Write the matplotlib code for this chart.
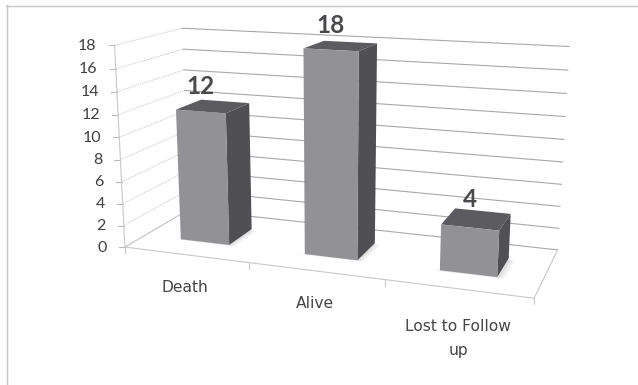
import numpy as np
import matplotlib
matplotlib.use("Agg")
import matplotlib.pyplot as plt
from matplotlib.patches import Polygon

categories = ["Death", "Alive", "Lost to Follow\nup"]
values = [12, 18, 4]
y_ticks = list(range(0, 19, 2))

Y_MAX = 18
BAR_WIDTH = 0.40
BAR_Z = (0.30, 0.70)

# Camera calibration: box coordinates (x, value, depth) and their screen positions.
box_points = np.array([
    (0, 0, 0), (0, 18, 0), (0, 0, 1), (0, 18, 1),
    (1, 0, 0), (1, 0, 1), (1, 18, 1),
    (1 / 3, 0, 0), (2 / 3, 0, 0),
], float)
screen_points = np.array([
    (126, 245), (114, 45), (188, 211), (183, 28),
    (534, 298), (558, 248), (569, 47),
    (249, 263), (385, 282),
], float)


def fit_camera(world, screen):
    rows, rhs = [], []
    for (x, y, z), (u, v) in zip(world, screen):
        rows.append([x, y, z, 1, 0, 0, 0, 0, -u * x, -u * y, -u * z])
        rows.append([0, 0, 0, 0, x, y, z, 1, -v * x, -v * y, -v * z])
        rhs += [u, v]
    p = np.linalg.lstsq(np.array(rows), np.array(rhs), rcond=None)[0]
    return np.append(p, 1).reshape(3, 4)


camera = fit_camera(box_points, screen_points)


def project(x, y, z):
    u, v, w = camera @ np.array([x, y, z, 1.0])
    return (u / w, v / w)


fig = plt.figure(figsize=(6.38, 3.85), dpi=100, facecolor="white")
ax = fig.add_axes([0, 0, 1, 1])
ax.set_xlim(0, 638)
ax.set_ylim(385, 0)
ax.axis("off")

# Chart frame: top and left edges
ax.plot([6, 638], [5.5, 5.5], color="#c4c4c4", lw=1.0, zorder=1)
ax.plot([6.5, 6.5], [5, 385], color="#c4c4c4", lw=1.0, zorder=1)

# Back wall and side wall gridlines, y axis ticks and labels
for t in y_ticks:
    a, b, c = project(0, t, 0), project(0, t, 1), project(1, t, 1)
    ax.plot([a[0], b[0]], [a[1], b[1]], color="#cccccc", lw=0.7, ls=(0, (1.5, 1)), zorder=1)
    ax.plot([b[0], c[0]], [b[1], c[1]], color="#a8a8a8", lw=0.8, zorder=1)
    ax.plot([a[0] - 6, a[0]], [a[1], a[1]], color="#bbbbbb", lw=0.8, zorder=1)
    ax.text(a[0] - 18, a[1] + 0.5, str(t), ha="right", va="center",
            fontsize=11.5, color="#404040", family="Lato")

# Axis verticals and floor outline
for seg in [((0, 0, 0), (0, Y_MAX, 0)), ((0, 0, 0), (1, 0, 0)),
            ((1, 0, 0), (1, 0, 1)), ((0, 0, 0), (0, 0, 1))]:
    p, q = project(*seg[0]), project(*seg[1])
    ax.plot([p[0], q[0]], [p[1], q[1]], color="#c8c8c8", lw=0.8, zorder=1)

# Category ticks along the front floor edge
for i in range(4):
    p = project(i / 3, 0, 0)
    ax.plot([p[0], p[0]], [p[1], p[1] + 6], color="#c8c8c8", lw=0.8, zorder=1)

label_pos = [(185, 287), (315, 303), (458, 338.5)]
for name, (lx, ly) in zip(categories, label_pos):
    ax.text(lx, ly, name, ha="center", va="center", fontsize=11.2, color="#454545",
            family="DejaVu Sans", linespacing=1.8)

# Bars drawn as three visible faces plus a soft floor shadow
FRONT, SIDE, TOP = "#929296", "#505054", "#5c5c60"
for i, v in enumerate(values):
    x0 = (i + 0.5 - BAR_WIDTH / 2) / 3
    x1 = (i + 0.5 + BAR_WIDTH / 2) / 3
    z0, z1 = BAR_Z
    for grow, alpha in [(0.018, 0.06), (0.012, 0.08), (0.006, 0.10)]:
        shadow = [project(x0 - grow, 0, z0 - grow), project(x1 + grow, 0, z0 - grow),
                  project(x1 + grow, 0, z1 - 0.04), project(x1, 0, z1 - 0.02), project(x0, 0, z0)]
        ax.add_patch(Polygon(shadow, fc="#707070", ec="none", alpha=alpha, zorder=2))
    ax.add_patch(Polygon([project(x1, 0, z0), project(x1, v, z0), project(x1, v, z1), project(x1, 0, z1)],
                         fc=SIDE, ec="none", zorder=3))
    ax.add_patch(Polygon([project(x0, v, z0), project(x1, v, z0), project(x1, v, z1), project(x0, v, z1)],
                         fc=TOP, ec="none", zorder=3))
    ax.add_patch(Polygon([project(x0, 0, z0), project(x1, 0, z0), project(x1, v, z0), project(x0, v, z0)],
                         fc=FRONT, ec="none", zorder=3))
    tx, _ = project((x0 + x1) / 2, v, z0)
    _, ty = project((x0 + x1) / 2, v, (z0 + z1) / 2)
    ax.text(tx, ty - 20, str(v), ha="center", va="center", fontsize=17.5, fontweight="bold",
            color="#4a4a4e", family="Lato", zorder=4)

fig.savefig("out.png", dpi=100)
